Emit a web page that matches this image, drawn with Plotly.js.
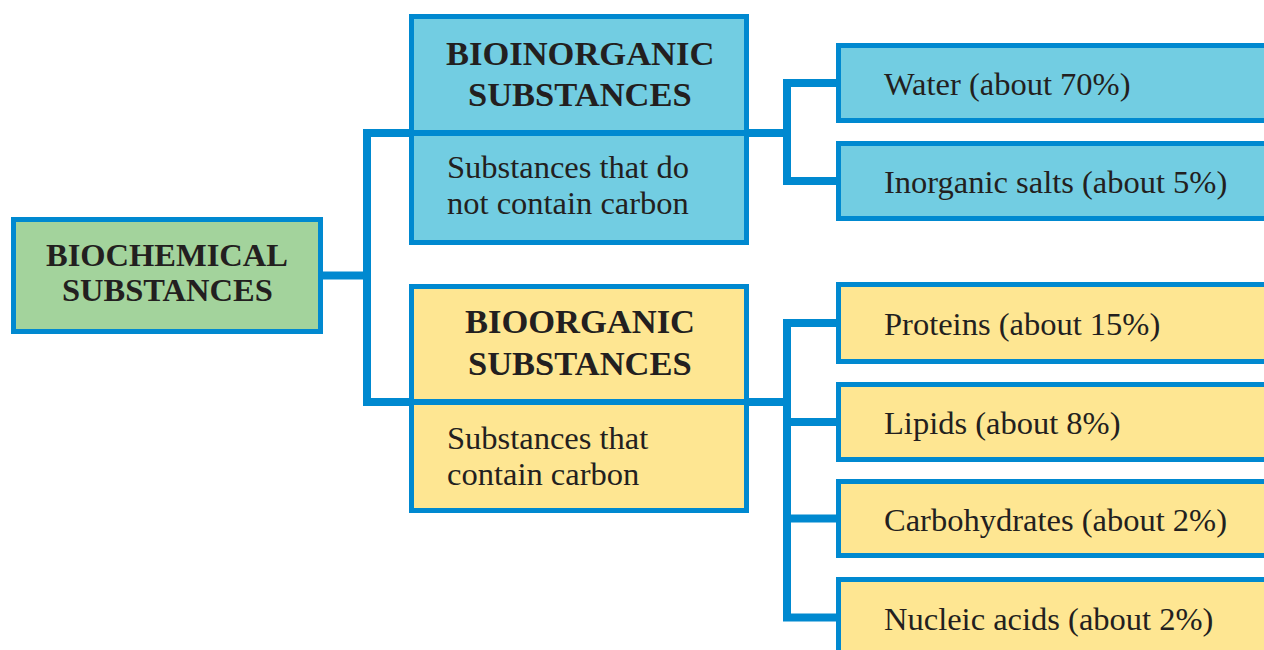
<!DOCTYPE html>
<html>
<head>
<meta charset="utf-8">
<script src="https://cdn.plot.ly/plotly-3.0.1.min.js"></script>
<style>
html,body{margin:0;padding:0;background:#fff;}
#chart{width:1264px;height:650px;}
</style>
</head>
<body>
<div id="chart"></div>
<script>
// ---- data ----
const rootLabel = ['BIOCHEMICAL', 'SUBSTANCES'];
const groupTitles = [['BIOINORGANIC', 'SUBSTANCES'], ['BIOORGANIC', 'SUBSTANCES']];
const groupDescriptions = [['Substances that do', 'not contain carbon'], ['Substances that', 'contain carbon']];
const components = ['Water', 'Inorganic salts', 'Proteins', 'Lipids', 'Carbohydrates', 'Nucleic acids'];
const componentShares = [70, 5, 15, 8, 2, 2];
const componentGroup = [0, 0, 1, 1, 1, 1];

// ---- layout geometry (pixels, y downward) ----
const G = {
  root: {x0: 11, x1: 323, y0: 217, y1: 334, lines: [255, 290]},
  groups: [
    {x0: 409, x1: 749, y0: 14, y1: 245, div: 133, title: [53, 94], desc: [167, 203]},
    {x0: 409, x1: 749, y0: 284, y1: 513, div: 402, title: [321, 363], desc: [438, 474]}
  ],
  comps: [[43, 123], [141, 221], [282, 364], [382, 462], [479, 558], [577, 662]],
  compX0: 836, compX1: 1290,
  rootSpine: 367, groupSpine: 787
};
const COL = {
  border: '#0089d0', green: '#a3d39c', blue: '#72cde2', yellow: '#fee692', text: '#231f20'
};
const groupFill = [COL.blue, COL.yellow];
const BW = 5, CW = 8;
const FONT = 'Liberation Serif, Times New Roman, serif';

const shapes = [];
const annotations = [];
function box(b, fill) {
  shapes.push({type: 'rect', xref: 'x', yref: 'y', x0: b.x0 + BW / 2, x1: b.x1 - BW / 2, y0: b.y0 + BW / 2, y1: b.y1 - BW / 2,
    fillcolor: fill, line: {color: COL.border, width: BW}, layer: 'above'});
}
function path(d, w) {
  shapes.push({type: 'path', xref: 'x', yref: 'y', path: d, line: {color: COL.border, width: w}, layer: 'above'});
}
function label(text, x, y, bold, anchor, size) {
  annotations.push({x: x, y: y, xref: 'x', yref: 'y', text: bold ? '<b>' + text + '</b>' : text, showarrow: false,
    xanchor: anchor, yanchor: 'middle', font: {family: FONT, size: size, color: COL.text}});
}

// connectors
const rootMid = (G.root.y0 + G.root.y1) / 2;
path(`M ${G.root.x1} ${rootMid} L ${G.rootSpine} ${rootMid}`, CW);
path(`M ${G.groups[0].x0} ${G.groups[0].div} L ${G.rootSpine} ${G.groups[0].div} L ${G.rootSpine} ${G.groups[1].div} L ${G.groups[1].x0} ${G.groups[1].div}`, CW);
G.groups.forEach((g, gi) => {
  const idx = componentGroup.map((v, i) => v === gi ? i : -1).filter(i => i >= 0);
  const mids = idx.map(i => (G.comps[i][0] + Math.min(G.comps[i][1], 658)) / 2);
  path(`M ${g.x1} ${g.div} L ${G.groupSpine} ${g.div}`, CW);
  path(`M ${G.compX0} ${mids[0]} L ${G.groupSpine} ${mids[0]} L ${G.groupSpine} ${mids[mids.length - 1]} L ${G.compX0} ${mids[mids.length - 1]}`, CW);
  mids.slice(1, -1).forEach(m => path(`M ${G.groupSpine} ${m} L ${G.compX0} ${m}`, CW));
});

// root box
box(G.root, COL.green);
rootLabel.forEach((t, i) => label(t, (G.root.x0 + G.root.x1) / 2, G.root.lines[i], true, 'center', 32.5));

// group boxes
G.groups.forEach((g, gi) => {
  box(g, groupFill[gi]);
  path(`M ${g.x0 + 2} ${g.div} L ${g.x1 - 2} ${g.div}`, 6);
  groupTitles[gi].forEach((t, i) => label(t, (g.x0 + g.x1) / 2 + 1, g.title[i], true, 'center', 34.5));
  groupDescriptions[gi].forEach((t, i) => label(t, 445, g.desc[i], false, 'left', 32.5));
});

// component boxes
components.forEach((c, i) => {
  const b = {x0: G.compX0, x1: G.compX1, y0: G.comps[i][0], y1: G.comps[i][1]};
  box(b, groupFill[componentGroup[i]]);
  label(`${c} (about ${componentShares[i]}%)`, 882, (G.comps[i][0] + Math.min(G.comps[i][1], 658)) / 2 + 1, false, 'left', 32.5);
});

const trace = {x: [0], y: [0], mode: 'markers', marker: {opacity: 0}, hoverinfo: 'skip', showlegend: false};
const layout = {
  width: 1264, height: 650, margin: {l: 0, r: 0, t: 0, b: 0},
  paper_bgcolor: '#fff', plot_bgcolor: '#fff',
  xaxis: {range: [0, 1264], visible: false, fixedrange: true},
  yaxis: {range: [650, 0], visible: false, fixedrange: true},
  shapes: shapes, annotations: annotations, showlegend: false
};
Plotly.newPlot('chart', [trace], layout, {staticPlot: true, displayModeBar: false});
</script>
</body>
</html>
